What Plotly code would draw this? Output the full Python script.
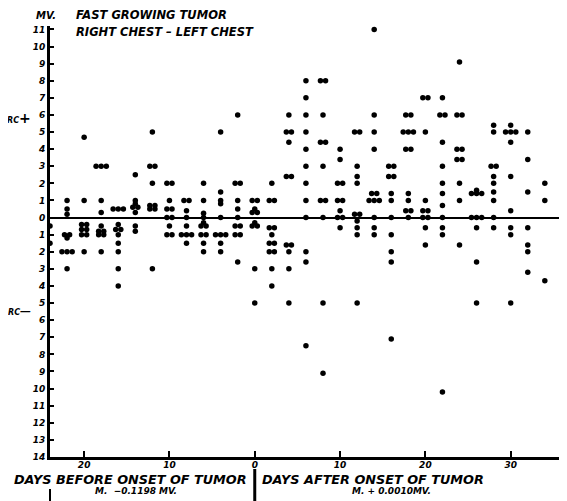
import plotly.graph_objects as go
from collections import Counter

# Days relative to onset of tumor (negative = before onset)
column_days = [-24, -22, -20, -18, -16, -14, -12, -10, -8, -6, -4, -2, 0,
               2, 4, 6, 8, 10, 12, 14, 16, 18, 20, 22, 24, 26, 28, 30, 32, 34, 36]

# MV readings (right chest - left chest) observed on each day; repeated values = several observations
column_values = [
    [-0.5, -1.5],
    [1, 0.5, 0.2, -1, -1, -1.2, -2, -2, -2, -3],
    [4.7, 1, -0.4, -0.4, -0.7, -0.7, -1, -1, -2],
    [3, 3, 3, 1, 0.3, -0.5, -0.8, -0.8, -1, -1, -2],
    [0.5, 0.5, 0.5, -0.4, -0.7, -0.7, -1, -1.5, -2, -3, -4],
    [2.5, 1, 0.8, 0.6, 0.6, 0.3, -0.5, -0.8],
    [5, 3, 3, 2, 0.7, 0.7, 0.5, 0.5, -3],
    [2, 2, 1, 0.5, 0.5, 0, 0, -0.5, -1, -1],
    [1, 1, 0.4, 0, -0.5, -1, -1, -1, -1.5],
    [2, 1, 0.25, 0, -0.3, -0.5, -0.5, -1, -1, -1.5, -2],
    [5, 1.5, 1, 0.8, 0, -1, -1, -1, -1.5, -2],
    [6, 2, 2, 1, 0.5, 0, -0.5, -0.5, -1, -1, -2.6],
    [1, 1, 0.5, 0.3, 0.3, -0.3, -0.5, -0.5, -3, -5],
    [2, 1, 1, -0.6, -0.6, -1, -1.5, -1.5, -2, -2, -3, -4],
    [6, 5, 5, 4.4, 2.4, 2.4, -1.6, -1.6, -2, -3, -5],
    [8, 7, 6, 5, 4, 3, 2, 1, 0, -2, -2.6, -7.5],
    [8, 8, 6, 4.4, 4.4, 3, 1, 1, 0, -5, -9.1],
    [4, 3.4, 2, 2, 1, 1, 0.4, 0, 0, -0.6],
    [5, 5, 3, 2.4, 2, 0.2, 0.2, -0.2, -0.6, -1, -5],
    [11, 6, 5, 4, 1.4, 1.4, 1, 1, 1, 0, -0.6, -1],
    [3, 3, 2.4, 2.4, 1.4, 1, 0, -1, -2, -2.6, -7.1],
    [6, 6, 5, 5, 5, 4, 4, 1.4, 1, 0.4, 0.4, 0],
    [7, 7, 5, 1, 0.4, 0.4, 0, 0, -0.6, -1.6],
    [7, 6, 6, 4.4, 3, 2, 1.4, 0.7, 0, -0.6, -1, -10.2],
    [9.1, 6, 6, 4, 4, 3.4, 3.4, 2, 1, -1.6],
    [1.6, 1.4, 1.4, 1.4, 0, 0, 0, -0.6, -2.6, -5],
    [5.4, 5, 3, 3, 2.4, 2, 1.5, 1, 0, -0.6],
    [5.4, 5, 5, 5, 4.4, 2.4, 0.4, -0.6, -1, -5],
    [5, 3.4, 1.5, -0.6, -1.6, -2, -3.2],
    [2, 1, -3.7],
    [3.4, -1],
]

x_tick_vals = [-20, -10, 0, 10, 20, 30]
x_tick_text = ["20", "10", "0", "10", "20", "30"]
y_tick_vals = list(range(-14, 12))
y_tick_text = [str(abs(v)) for v in y_tick_vals]

# spread repeated observations side by side
xs, ys = [], []
spread = 0.6
for d, vals in zip(column_days, column_values):
    counts = Counter(vals)
    for v, n in counts.items():
        for i in range(n):
            xs.append(d + (i - (n - 1) / 2) * spread)
            ys.append(v)

FONT = "DejaVu Sans"
bi = dict(family=FONT, color="black", weight="bold", style="italic")

fig = go.Figure()
fig.add_trace(go.Scatter(x=xs, y=ys, mode="markers",
                         marker=dict(color="black", size=5.5),
                         cliponaxis=False, showlegend=False))

# page body has an 8px margin, so the figure is drawn 8px in from the top-left
fig.update_layout(
    width=559, height=493,
    margin=dict(l=42, r=0, t=18, b=44),
    paper_bgcolor="white", plot_bgcolor="white",
    xaxis=dict(range=[-24, 36.6], showgrid=False, zeroline=False,
               showline=True, linecolor="black", linewidth=3,
               tickvals=x_tick_vals, ticktext=x_tick_text,
               ticks="inside", ticklen=6, tickwidth=2, tickcolor="black",
               ticklabelstandoff=-3,
               tickfont=dict(size=9, **bi)),
    yaxis=dict(range=[-14, 11.2], showgrid=False,
               zeroline=True, zerolinecolor="black", zerolinewidth=2,
               showline=True, linecolor="black", linewidth=3,
               tickvals=y_tick_vals, ticktext=y_tick_text,
               ticks="inside", ticklen=4, tickwidth=2, tickcolor="black",
               tickfont=dict(size=9, **bi)),
)

def ann(text, x, y, size, xanchor="center"):
    fig.add_annotation(text=text, x=x, y=y, xref="paper", yref="paper",
                       xanchor=xanchor, yanchor="middle", showarrow=False,
                       font=dict(size=size, **bi))

H = 431.0
def py(p):
    return (457 - p) / H

def px(p):
    return (p - 50) / 517.0

ann("MV.", px(46), py(15), 10)
ann("FAST GROWING TUMOR", px(74), py(15), 11.5, xanchor="left")
ann("RIGHT CHEST \u2013 LEFT CHEST", px(74), py(32), 11.5, xanchor="left")
ann("<span style='font-size:8px'>RC</span>+", px(19), py(118), 14)
ann("<span style='font-size:8px'>RC</span>\u2014", px(19), py(311), 11)
ann("DAYS BEFORE ONSET OF TUMOR", px(249), py(479), 12.8, xanchor="right")
ann("DAYS AFTER ONSET OF TUMOR", px(260), py(479), 12.8, xanchor="left")
ann("M.  \u22120.1198 MV.", px(136), py(491), 9)
ann("M. + 0.0010MV.", px(391), py(491), 9)

fig.add_shape(type="line", xref="x", yref="paper", x0=0, x1=0,
              y0=py(469), y1=py(501), line=dict(color="black", width=3))
fig.add_shape(type="line", xref="paper", yref="paper", x0=0, x1=0,
              y0=py(489), y1=py(501), line=dict(color="black", width=2))

fig.write_html("out.html")
